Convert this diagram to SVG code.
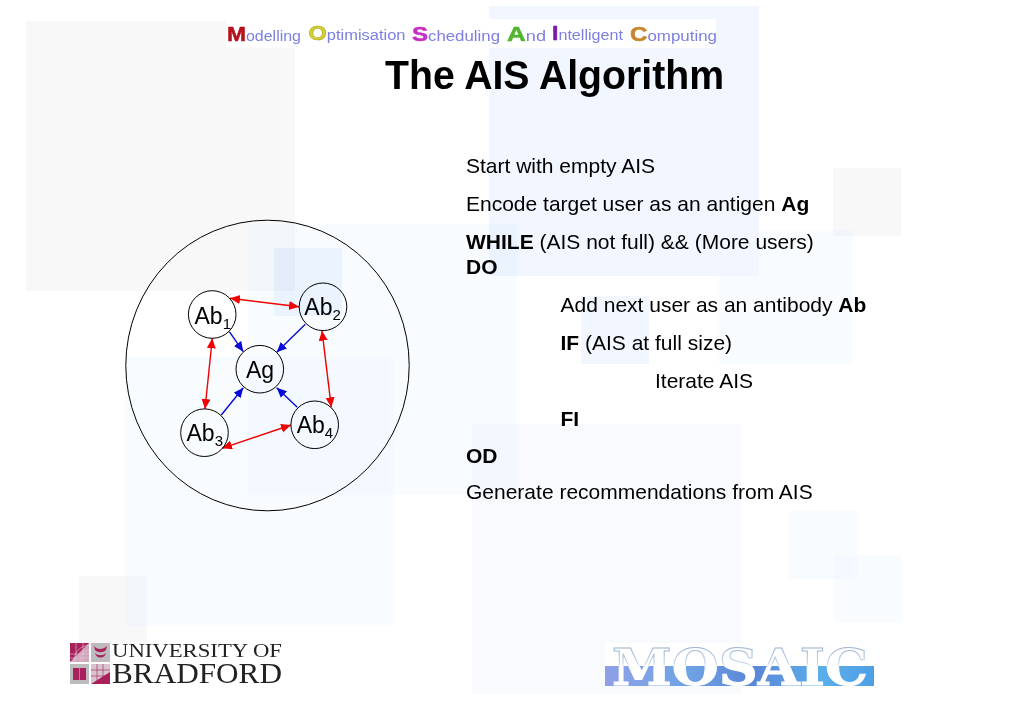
<svg xmlns="http://www.w3.org/2000/svg" width="1023" height="708" viewBox="0 0 1023 708">
<style>
.bg{mix-blend-mode:multiply}
.gray{fill:#f8f8f9}
.blue{fill:#f1f6ff}
.pale{fill:#f9fcff}
.paler{fill:#f9fafe}
text{font-family:"Liberation Sans",Arial,sans-serif;fill:#000}
.body{font-size:21px}
.b{font-weight:bold}
.hd{font-size:14px;fill:#7d80e2}
.cap{font-size:20px;font-weight:bold;stroke-width:.5}
.lab{font-size:23px}
.sub{font-size:15px}
.node{fill:none;stroke:#000;stroke-width:1}
.red{stroke:#f00000;stroke-width:1.4;fill:none;marker-start:url(#rh);marker-end:url(#rh)}
.bl{stroke:#0a0ad8;stroke-width:1.4;fill:none;marker-end:url(#bh)}
.serif{font-family:"Liberation Serif","Times New Roman",serif;fill:#222}
.crim{fill:#a8205c}
.sq{fill:#bdbbbd}
.grid{stroke:#e8c8d8;stroke-width:.6;fill:none}
</style>
<defs>
<marker id="rh" markerUnits="userSpaceOnUse" markerWidth="11" markerHeight="10" refX="10" refY="4.500" orient="auto-start-reverse"><path d="M0 0L10 4.500L0 9Z" fill="#f00000"/></marker>
<marker id="bh" markerUnits="userSpaceOnUse" markerWidth="11" markerHeight="10" refX="10" refY="4.500" orient="auto"><path d="M0 0L10 4.500L0 9Z" fill="#0a0ad8"/></marker>
<linearGradient id="sea" x1="0" y1="0" x2="1" y2="0"><stop offset="0" stop-color="#8ea0e8"/><stop offset=".3" stop-color="#6fa4e4"/><stop offset=".55" stop-color="#5a86d8"/><stop offset=".8" stop-color="#5aaeea"/><stop offset="1" stop-color="#4f9fe6"/></linearGradient>
<linearGradient id="edge" gradientUnits="userSpaceOnUse" x1="0" y1="647" x2="0" y2="686"><stop offset="0" stop-color="#9fb4d0"/><stop offset=".42" stop-color="#c8d8ea"/><stop offset=".52" stop-color="#ffffff"/></linearGradient>
</defs>
<rect width="1023" height="708" fill="#fff"/>
<g id="background">
<rect class="bg gray" x="26" y="21" width="269" height="270"/>
<rect class="bg blue" x="489" y="6" width="270" height="270"/>
<rect class="bg gray" x="833" y="168" width="68" height="68"/>
<rect class="bg pale" x="248" y="224" width="269" height="271"/>
<rect class="bg blue" x="274" y="248" width="68" height="68"/>
<rect class="bg pale" x="759" y="230" width="94" height="46"/>
<rect class="bg pale" x="719" y="276" width="134" height="88"/>
<rect class="bg blue" x="581" y="296" width="68" height="68"/>
<rect class="bg pale" x="125" y="357" width="268" height="269"/>
<rect class="bg gray" x="79" y="576" width="68" height="68"/>
<rect class="bg paler" x="472" y="424" width="269" height="270"/>
<rect class="bg pale" x="789" y="511" width="68" height="68"/>
<rect class="bg pale" x="834" y="555" width="68" height="68"/>
</g>
<g id="header">
<rect x="226" y="19" width="490" height="29" fill="#fff"/>
<text class="hd" x="227" y="41" textLength="74" lengthAdjust="spacingAndGlyphs"><tspan class="cap" style="fill:#b5121b;stroke:#b5121b">M</tspan>odelling</text>
<text class="hd" x="308.500" y="40" textLength="97" lengthAdjust="spacingAndGlyphs"><tspan class="cap" style="fill:#d6cf2c;stroke:#a8a020">O</tspan>ptimisation</text>
<text class="hd" x="412" y="41" textLength="88" lengthAdjust="spacingAndGlyphs"><tspan class="cap" style="fill:#c42fc4;stroke:#c42fc4">S</tspan>cheduling</text>
<text class="hd" x="507" y="41" textLength="39" lengthAdjust="spacingAndGlyphs"><tspan class="cap" style="fill:#52b52f;stroke:#52b52f">A</tspan>nd</text>
<text class="hd" x="552" y="40" textLength="71" lengthAdjust="spacingAndGlyphs"><tspan class="cap" style="fill:#7a18b0;stroke:#7a18b0">I</tspan>ntelligent</text>
<text class="hd" x="630" y="41" textLength="87" lengthAdjust="spacingAndGlyphs"><tspan class="cap" style="fill:#c8862a;stroke:#c8862a">C</tspan>omputing</text>
</g>
<text id="title" x="385" y="89" font-size="40" font-weight="bold" textLength="339" lengthAdjust="spacingAndGlyphs">The AIS Algorithm</text>
<g id="pseudocode">
<text class="body" x="466" y="173">Start with empty AIS</text>
<text class="body" x="466" y="211">Encode target user as an antigen <tspan class="b">Ag</tspan></text>
<text class="body" x="466" y="249"><tspan class="b">WHILE</tspan> (AIS not full) &amp;&amp; (More users)</text>
<text class="body b" x="466" y="274">DO</text>
<text class="body" x="560.500" y="312">Add next user as an antibody <tspan class="b">Ab</tspan></text>
<text class="body" x="560.500" y="350"><tspan class="b">IF</tspan> (AIS at full size)</text>
<text class="body" x="655" y="387.500">Iterate AIS</text>
<text class="body b" x="560.500" y="425.500">FI</text>
<text class="body b" x="466" y="463">OD</text>
<text class="body" x="466" y="499">Generate recommendations from AIS</text>
</g>
<g id="connectors">
<line class="red" x1="230" y1="298.300" x2="299" y2="306.700"/>
<line class="red" x1="212.300" y1="338.300" x2="205" y2="409"/>
<line class="red" x1="322" y1="330.700" x2="331.300" y2="407.300"/>
<line class="red" x1="222" y1="448.300" x2="291" y2="425"/>
<line class="bl" x1="229.300" y1="331.700" x2="243.300" y2="351.700"/>
<line class="bl" x1="305.300" y1="324.300" x2="276.700" y2="352.300"/>
<line class="bl" x1="221.300" y1="415" x2="243.300" y2="387.700"/>
<line class="bl" x1="297.300" y1="407.300" x2="276.700" y2="387.700"/>
</g>
<g id="ais"><ellipse class="node" cx="267.500" cy="365.500" rx="141.700" ry="145.300"/></g>
<g id="ab1"><circle class="node" cx="212.200" cy="314.500" r="23.800"/><text class="lab" x="194.500" y="324">Ab<tspan class="sub" dy="5">1</tspan></text></g>
<g id="ab2"><circle class="node" cx="323" cy="306.800" r="23.800"/><text class="lab" x="304.300" y="315">Ab<tspan class="sub" dy="5">2</tspan></text></g>
<g id="ag"><circle class="node" cx="259.800" cy="369.200" r="23.800"/><text class="lab" x="246" y="378">Ag</text></g>
<g id="ab3"><circle class="node" cx="204.500" cy="432.700" r="23.800"/><text class="lab" x="186.500" y="441">Ab<tspan class="sub" dy="5">3</tspan></text></g>
<g id="ab4"><circle class="node" cx="314.700" cy="424.800" r="23.800"/><text class="lab" x="296.700" y="433">Ab<tspan class="sub" dy="5">4</tspan></text></g>
<g id="bradford-logo">
<rect class="crim" x="70" y="643" width="19" height="19"/>
<path d="M70 662L89 643V662Z" fill="#cfa6bb"/>
<path class="grid" d="M74 662C74 652 80 646 89 645M80 662C80 655 84 650 89 650M70 654H89M70 658H89M76 643V662M83 643V662"/>
<rect class="sq" x="91" y="643" width="19" height="19"/>
<path class="crim" d="M94 646C97 650 103 650 107 646L106 650C103 653 98 653 95 650ZM95 653C98 656 103 656 106 653C105 659 96 659 95 653Z"/>
<rect class="sq" x="70" y="664" width="19" height="20"/>
<path class="crim" d="M73 668H79.200V680H73ZM79.800 668H86V680H79.800Z"/>
<rect x="91" y="664" width="19" height="20" fill="#d8c4ce"/>
<path class="crim" d="M91 684L110 672V684Z"/>
<path class="grid" d="M91 670H110M91 676H110M97 664V684M103 664V684" style="stroke:#a8205c"/>
<text class="serif" x="112" y="657" font-size="19.500" textLength="170" lengthAdjust="spacingAndGlyphs">UNIVERSITY OF</text>
<text class="serif" x="112" y="683" font-size="28.500" textLength="170" lengthAdjust="spacingAndGlyphs">BRADFORD</text>
</g>
<g id="mosaic-logo">
<rect x="605" y="643" width="269" height="23" fill="#fff"/>
<rect x="605" y="666" width="269" height="20" fill="url(#sea)"/>
<text x="612" y="685" font-size="50" font-weight="bold" textLength="256" lengthAdjust="spacingAndGlyphs" style="font-family:'DejaVu Serif',serif;fill:#fff;stroke:url(#edge);stroke-width:1">MOSAIC</text>
</g>
</svg>
